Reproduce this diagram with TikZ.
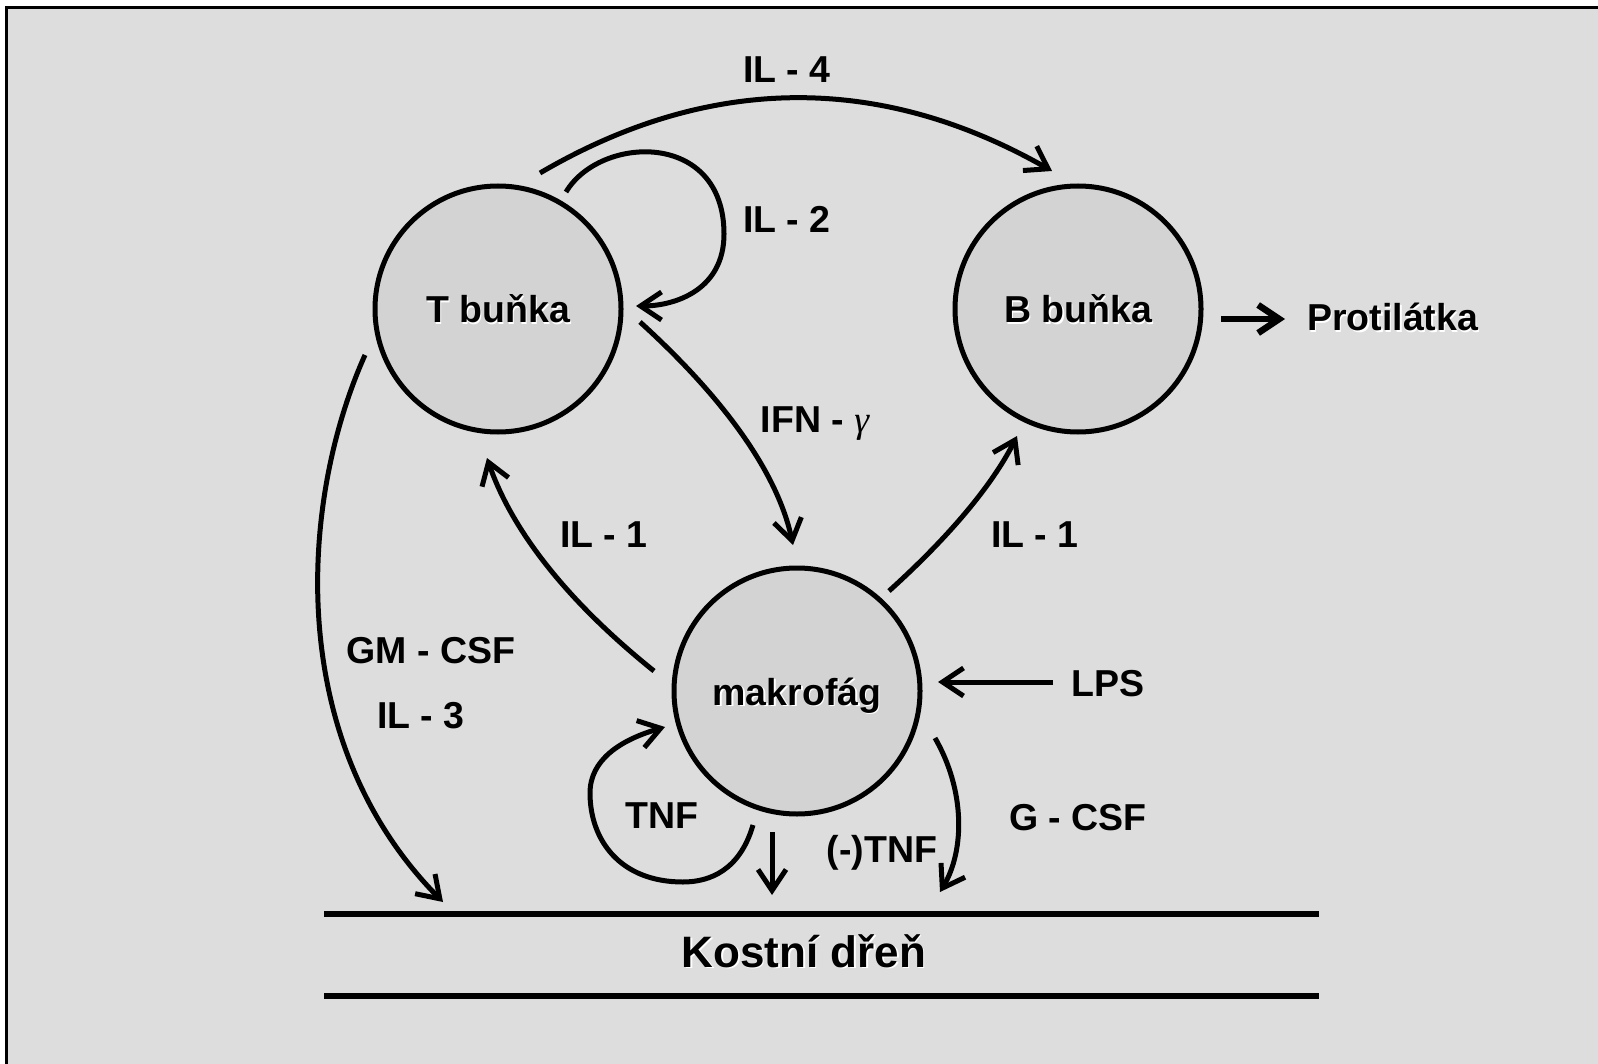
\documentclass[tikz,border=0pt]{standalone}
\usepackage{fontspec}
\setmainfont{Liberation Sans}
\newfontfamily\greekserif{Liberation Serif}
\usetikzlibrary{arrows.meta,calc}
\definecolor{bg}{RGB}{221,221,221}
\definecolor{cellfill}{RGB}{211,211,211}
\begin{document}
\begin{tikzpicture}[x=1pt,y=-1pt,
  cell/.style={circle,draw=black,line width=5pt,fill=cellfill,minimum size=246pt,inner sep=0pt},
  lbl/.style={font=\fontsize{37.5}{40}\selectfont\bfseries,anchor=base,inner sep=0pt},
  shadowlbl/.style={lbl,text=white},
  biglbl/.style={font=\fontsize{44}{48}\selectfont\bfseries,anchor=base,inner sep=0pt},
  conn/.style={line width=5pt,-{Straight Barb[length=21pt,width=28pt]}},
  bar/.style={line width=6pt},
  ]
\useasboundingbox (0,0) rectangle (1598,1064);
\fill[white] (0,0) rectangle (1598,1064);
\fill[bg] (8,9) rectangle (1598,1064);
\draw[line width=3pt] (6.5,1064) -- (6.5,7.5) -- (1598,7.5);

% cells
\node[cell] (T) at (498,309) {};
\node[cell] (B) at (1078,309) {};
\node[cell] (M) at (797,691) {};

% shadowed labels
\node[shadowlbl] at (499.5,324.5) {T buňka};
\node[lbl] (Tt) at (498,323) {T buňka};
\node[shadowlbl] at (1079.5,324.5) {B buňka};
\node[lbl] (Bt) at (1078,323) {B buňka};
\node[shadowlbl] at (798.5,706.5) {makrofág};
\node[lbl] (Mt) at (797,705) {makrofág};
\node[shadowlbl,anchor=base west] at (1308.5,332.5) {Protilátka};
\node[lbl,anchor=base west] (P) at (1307,331) {Protilátka};
\node[biglbl,text=white] at (805.5,968.5) {Kostní dřeň};
\node[biglbl] (K) at (804,967) {Kostní dřeň};

% plain labels
\node[lbl] (l4) at (787,83) {IL - 4};
\node[lbl] (l2) at (787,233) {IL - 2};
\node[lbl] (lifn) at (815,432) {IFN - {\greekserif\mdseries\itshape γ}};
\node[lbl] (l1a) at (604,547) {IL - 1};
\node[lbl] (l1b) at (1035,547) {IL - 1};
\node[lbl] (lgm) at (431,663) {GM - CSF};
\node[lbl] (l3) at (421,728) {IL - 3};
\node[lbl] (llps) at (1108,696) {LPS};
\node[lbl] (ltnf) at (662,828) {TNF};
\node[lbl] (lntnf) at (882,862) {(-)TNF};
\node[lbl] (lg) at (1078,830) {G - CSF};

% connector end points
\coordinate (a4s) at (540,173);   \coordinate (a4e) at (1052,171);
\coordinate (a2s) at (566,192);   \coordinate (a2m) at (724,234);  \coordinate (a2e) at (636,306);
\coordinate (ifs) at (640,322);   \coordinate (ife) at (793,545);
\coordinate (i1as) at (654,671);  \coordinate (i1ae) at (487,458);
\coordinate (i1bs) at (889,591);  \coordinate (i1be) at (1017,436);
\coordinate (gms) at (365,355);   \coordinate (gme) at (443,902);
\coordinate (tns) at (753,825);   \coordinate (tnb) at (683,882);  \coordinate (tnl) at (590,793); \coordinate (tne) at (665,727);
\coordinate (dns) at (772,832);   \coordinate (dne) at (772,895);
\coordinate (ngs) at (935,738);   \coordinate (nge) at (940,892);
\coordinate (lps) at (1053,682);  \coordinate (lpe) at (938,682);
\coordinate (prs) at (1221,319);  \coordinate (pre) at (1285,319);

% connectors
\draw[conn] (a4s) .. controls (709,74) and (880,73) .. (a4e);
\draw[conn] (a2s) .. controls (600,135) and (724,130) .. (a2m) .. controls (724,290) and (675,306) .. (a2e);
\draw[conn] (ifs) .. controls (727,401) and (778,475) .. (ife);
\draw[conn] (i1as) .. controls (568,602) and (512,531) .. (i1ae);
\draw[conn] (i1bs) .. controls (950,536) and (993,484) .. (i1be);
\draw[conn] (gms) .. controls (300,500) and (283,740) .. (gme);
\draw[conn] (tns) .. controls (740,870) and (710,882) .. (tnb) .. controls (620,882) and (590,840) .. (tnl) .. controls (590,760) and (620,740) .. (tne);
\draw[conn] (dns) -- (dne);
\draw[conn] (ngs) .. controls (965,790) and (965,850) .. (nge);
\draw[conn] (lps) -- (lpe);
\draw[conn,line width=6.5pt] (prs) -- (pre);

% bone marrow bars
\draw[bar] (324,914) -- (1319,914);
\draw[bar] (324,996) -- (1319,996);
\end{tikzpicture}
\end{document}
